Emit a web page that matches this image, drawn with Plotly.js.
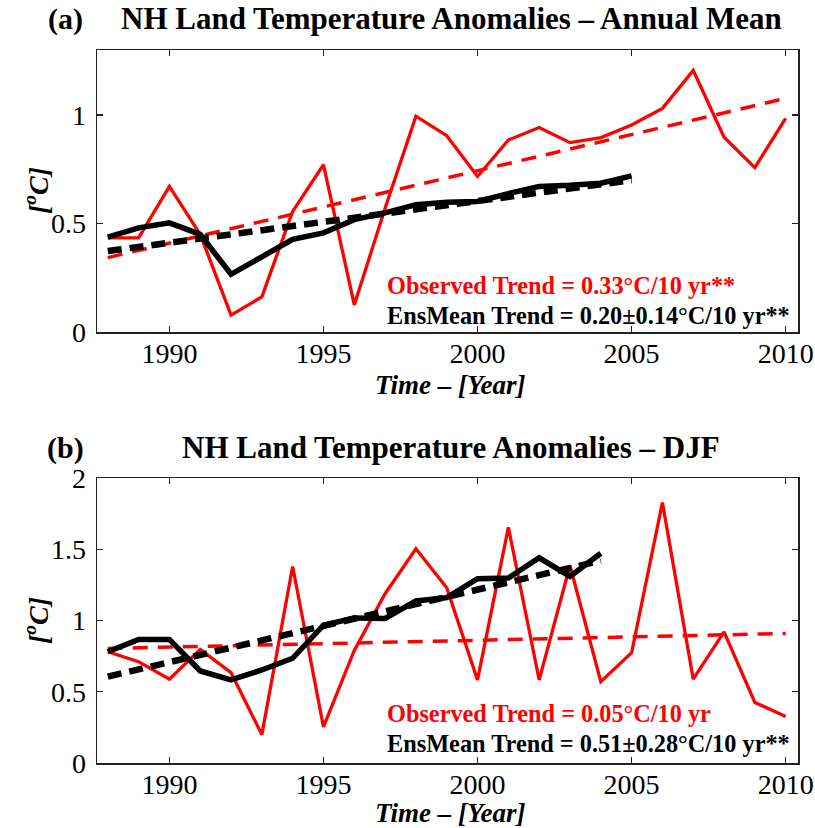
<!DOCTYPE html>
<html>
<head>
<meta charset="utf-8">
<script src="https://cdn.plot.ly/plotly-3.0.1.min.js"></script>
<style>
html,body{margin:0;padding:0;background:#fff;}
#chart{width:815px;height:828px;}
</style>
</head>
<body>
<div id="chart"></div>
<script>
// ---- data ----
const years = [1988,1989,1990,1991,1992,1993,1994,1995,1996,1997,1998,1999,2000,2001,2002,2003,2004,2005,2006,2007,2008,2009,2010];
const ensYearsA = [1988,1989,1990,1991,1992,1993,1994,1995,1996,1997,1998,1999,2000,2001,2002,2003,2004,2005];
const ensYearsB = [1988,1989,1990,1991,1992,1993,1994,1995,1996,1997,1998,1999,2000,2001,2002,2003,2004];

const obsAnnual = [0.434,0.434,0.671,0.45,0.078,0.162,0.556,0.771,0.125,0.57,0.995,0.905,0.717,0.885,0.943,0.873,0.896,0.954,1.031,1.206,0.898,0.758,0.985];
const ensAnnual = [0.437,0.48,0.503,0.45,0.266,0.35,0.427,0.457,0.518,0.549,0.587,0.598,0.602,0.638,0.671,0.676,0.686,0.72];
const obsTrendYearsA = [1988,2010];
const obsTrendA = [0.343,1.077];
const ensTrendYearsA = [1988,2005];
const ensTrendA = [0.373,0.70];

const obsDJF = [0.781,0.711,0.588,0.797,0.634,0.199,1.379,0.253,0.79,1.188,1.503,1.23,0.583,1.654,0.583,1.386,0.571,0.774,1.828,0.588,0.92,0.425,0.327];
const ensDJF = [0.781,0.867,0.867,0.646,0.583,0.653,0.735,0.967,1.018,1.014,1.137,1.16,1.293,1.298,1.44,1.309,1.472];
const obsTrendYearsB = [1988,2010];
const obsTrendB = [0.804,0.909];
const ensTrendYearsB = [1988,2004];
const ensTrendB = [0.606,1.42];

const xTicks = [1990,1995,2000,2005,2010];
const yTicksA = [0,0.5,1];
const yTickLabelsA = ['0','0.5','1'];
const yTicksB = [0,0.5,1,1.5,2];
const yTickLabelsB = ['0','0.5','1','1.5','2'];

const titleA = 'NH Land Temperature Anomalies \u2013 Annual Mean';
const titleB = 'NH Land Temperature Anomalies \u2013 DJF';
const xTitle = 'Time \u2013 [Year]';
const yTitle = '[<sup>o</sup>C]';
const obsTextA = 'Observed Trend = 0.33\u00b0C/10 yr**';
const ensTextA = 'EnsMean Trend = 0.20\u00b10.14\u00b0C/10 yr**';
const obsTextB = 'Observed Trend = 0.05\u00b0C/10 yr';
const ensTextB = 'EnsMean Trend = 0.51\u00b10.28\u00b0C/10 yr**';

// ---- styles ----
const RED = '#ff0000';
const FONT = 'Liberation Serif, Times New Roman, serif';
const W = 815, H = 828;
const px = v => v / W;
const py = v => 1 - v / H;

function lineTrace(x, y, xa, ya, color, width, dash) {
  return {x: x, y: y, xaxis: xa, yaxis: ya, type: 'scatter', mode: 'lines',
          line: {color: color, width: width, dash: dash || 'solid'},
          hoverinfo: 'skip', showlegend: false};
}

const data = [
  lineTrace(years, obsAnnual, 'x', 'y', RED, 3.3),
  lineTrace(obsTrendYearsA, obsTrendA, 'x', 'y', RED, 3.5, '15px,10px'),
  lineTrace(ensYearsA, ensAnnual, 'x', 'y', '#000', 5.5),
  lineTrace(ensTrendYearsA, ensTrendA, 'x', 'y', '#000', 6.5, '14px,8px'),
  lineTrace(years, obsDJF, 'x2', 'y2', RED, 3.3),
  lineTrace(obsTrendYearsB, obsTrendB, 'x2', 'y2', RED, 3.5, '15px,10px'),
  lineTrace(ensYearsB, ensDJF, 'x2', 'y2', '#000', 5.5),
  lineTrace(ensTrendYearsB, ensTrendB, 'x2', 'y2', '#000', 6.5, '14px,8px')
];

function xAxis(anchor) {
  return {
    anchor: anchor, domain: [px(97), px(798)], range: [1987.65, 2010.4],
    tickvals: xTicks, ticktext: xTicks.map(String),
    ticks: 'inside', ticklen: 6, tickwidth: 1.2, tickcolor: '#222',
    showline: true, linecolor: '#222', linewidth: 1.5, mirror: 'ticks',
    showgrid: false, zeroline: false,
    tickfont: {family: FONT, size: 28, color: '#000'},
    ticklabelstandoff: -4
  };
}
function yAxis(anchor, domain, range, tv, tt) {
  return {
    anchor: anchor, domain: domain, range: range,
    tickvals: tv, ticktext: tt,
    ticks: 'inside', ticklen: 6, tickwidth: 1.2, tickcolor: '#222',
    showline: true, linecolor: '#222', linewidth: 1.5, mirror: 'ticks',
    showgrid: false, zeroline: false,
    tickfont: {family: FONT, size: 28, color: '#000'},
    ticklabelstandoff: 4
  };
}

function ann(text, x, y, size, color, xanchor, angle) {
  return {text: text, x: x, y: y, xref: 'paper', yref: 'paper', showarrow: false,
          xanchor: xanchor || 'center', yanchor: 'middle', textangle: angle || 0,
          font: {family: FONT, size: size, color: color}};
}

const layout = {
  width: W, height: H,
  margin: {l: 0, r: 0, t: 0, b: 0},
  paper_bgcolor: '#fff', plot_bgcolor: '#fff',
  showlegend: false,
  xaxis: xAxis('y'),
  yaxis: yAxis('x', [py(332), py(50)], [0, 1.3], yTicksA, yTickLabelsA),
  xaxis2: xAxis('y2'),
  yaxis2: yAxis('x2', [py(763), py(478)], [0, 2], yTicksB, yTickLabelsB),
  annotations: [
    ann('<b>(a)</b>', px(65), py(19), 30, '#000'),
    ann('<b>' + titleA + '</b>', px(451), py(19), 31, '#000'),
    ann('<b><i>' + xTitle + '</i></b>', px(450), py(385), 27, '#000'),
    ann('<b><i>' + yTitle + '</i></b>', px(36), py(191), 28, '#000', 'center', -90),
    ann('<b>' + obsTextA + '</b>', px(385), py(285), 24.3, RED, 'left'),
    ann('<b>' + ensTextA + '</b>', px(385), py(315), 24.3, '#000', 'left'),
    ann('<b>(b)</b>', px(65), py(448), 30, '#000'),
    ann('<b>' + titleB + '</b>', px(451), py(448), 31, '#000'),
    ann('<b><i>' + xTitle + '</i></b>', px(450), py(813), 27, '#000'),
    ann('<b><i>' + yTitle + '</i></b>', px(36), py(621), 28, '#000', 'center', -90),
    ann('<b>' + obsTextB + '</b>', px(385), py(713), 24.3, RED, 'left'),
    ann('<b>' + ensTextB + '</b>', px(385), py(743), 24.3, '#000', 'left')
  ]
};

Plotly.newPlot('chart', data, layout, {displayModeBar: false, staticPlot: true});
</script>
</body>
</html>
